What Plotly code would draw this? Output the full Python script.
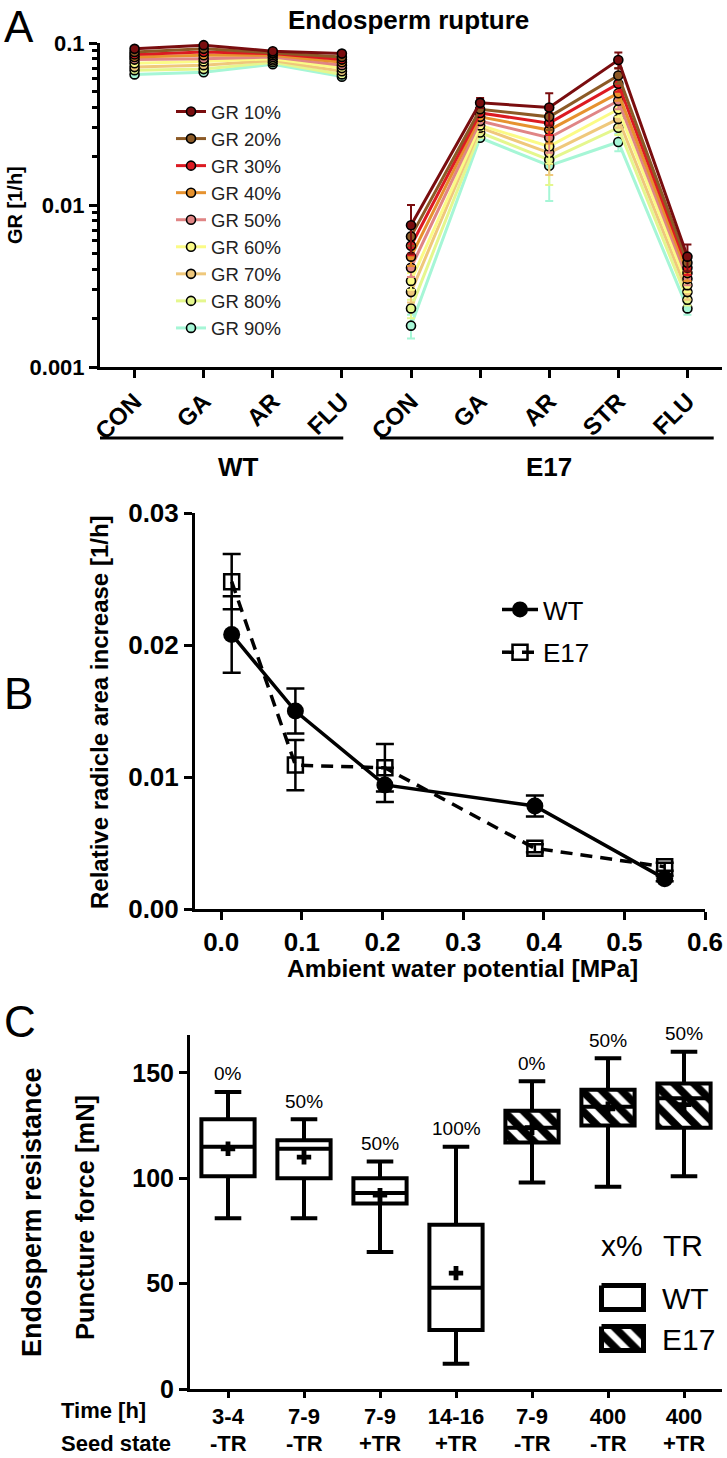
import plotly.graph_objects as go

W, H = 727, 1458
def px(x): return x / W
def py(y): return 1 - y / H

FONT = "Liberation Sans, Arial, Helvetica, sans-serif"

# ---------------- Panel A data ----------------
a_categories = ["CON", "GA", "AR", "FLU", "CON", "GA", "AR", "STR", "FLU"]
a_wt_idx = [0, 1, 2, 3]
a_e17_idx = [4, 5, 6, 7, 8]
a_series = ["GR 10%", "GR 20%", "GR 30%", "GR 40%", "GR 50%", "GR 60%", "GR 70%", "GR 80%", "GR 90%"]
a_colors = ["#7a0d0f", "#8c5a26", "#dc1a22", "#e6922f", "#e08585", "#fbfb86", "#efc87c", "#e5f78e", "#a6f6d6"]
gr10 = [0.092, 0.097, 0.089, 0.086, 0.0075, 0.0427, 0.040, 0.0785, 0.0048]
gr20 = [0.088, 0.092, 0.087, 0.082, 0.0064, 0.039, 0.035, 0.063, 0.0044]
gr30 = [0.085, 0.088, 0.086, 0.079, 0.0056, 0.037, 0.032, 0.056, 0.0041]
gr40 = [0.082, 0.084, 0.084, 0.076, 0.0048, 0.035, 0.029, 0.049, 0.0038]
gr50 = [0.079, 0.080, 0.082, 0.073, 0.0041, 0.033, 0.026, 0.044, 0.0035]
gr60 = [0.075, 0.077, 0.080, 0.070, 0.0034, 0.031, 0.023, 0.039, 0.0032]
gr70 = [0.071, 0.073, 0.078, 0.067, 0.0029, 0.030, 0.021, 0.034, 0.0029]
gr80 = [0.068, 0.069, 0.076, 0.064, 0.0023, 0.028, 0.019, 0.030, 0.0026]
gr90 = [0.064, 0.066, 0.074, 0.062, 0.0018, 0.026, 0.0175, 0.0245, 0.0023]
er10 = [0.001, 0.001, 0.001, 0.001, 0.0025, 0.003, 0.009, 0.009, 0.0009]
er20 = [0.001, 0.001, 0.001, 0.001, 0.0008, 0.002, 0.006, 0.007, 0.0005]
er30 = [0.001, 0.001, 0.001, 0.001, 0.0007, 0.002, 0.005, 0.006, 0.0004]
er40 = [0.001, 0.001, 0.001, 0.001, 0.0006, 0.002, 0.005, 0.005, 0.0004]
er50 = [0.001, 0.001, 0.001, 0.001, 0.0005, 0.002, 0.005, 0.005, 0.0003]
er60 = [0.001, 0.001, 0.001, 0.001, 0.0004, 0.002, 0.005, 0.004, 0.0003]
er70 = [0.001, 0.001, 0.001, 0.001, 0.0004, 0.002, 0.0057, 0.004, 0.0003]
er80 = [0.001, 0.001, 0.001, 0.001, 0.0003, 0.002, 0.0057, 0.003, 0.0002]
er90 = [0.001, 0.001, 0.001, 0.001, 0.0003, 0.001, 0.0069, 0.003, 0.0002]
a_values = [gr10, gr20, gr30, gr40, gr50, gr60, gr70, gr80, gr90]
a_errors = [er10, er20, er30, er40, er50, er60, er70, er80, er90]
a_yticks = [0.001, 0.01, 0.1]
a_ytext = ["0.001", "0.01", "0.1"]

# ---------------- Panel B data ----------------
b_x_wt = [0.013, 0.092, 0.203, 0.389, 0.550]
b_y_wt = [0.0208, 0.0150, 0.0094, 0.0078, 0.0023]
b_e_wt = [0.0029, 0.0017, 0.0013, 0.0008, 0.0002]
b_x_e17 = [0.013, 0.092, 0.203, 0.389, 0.550]
b_y_e17 = [0.0248, 0.0109, 0.0107, 0.0046, 0.0032]
b_e_e17 = [0.0021, 0.0019, 0.0018, 0.0003, 0.0003]
b_xticks = [0.0, 0.1, 0.2, 0.3, 0.4, 0.5, 0.6]
b_yticks = [0.0, 0.01, 0.02, 0.03]

# ---------------- Panel C data ----------------
c_time = ["3-4", "7-9", "7-9", "14-16", "7-9", "400", "400"]
c_state = ["-TR", "-TR", "+TR", "+TR", "-TR", "-TR", "+TR"]
c_genotype = ["WT", "WT", "WT", "WT", "E17", "E17", "E17"]
c_pct = ["0%", "50%", "50%", "100%", "0%", "50%", "50%"]
c_low = [81, 81, 65, 12, 98, 96, 101]
c_q1 = [101, 100, 88, 28, 117, 125, 124]
c_med = [115, 114, 93, 48, 124, 134, 138]
c_q3 = [128, 118, 100, 78, 132, 142, 145]
c_high = [141, 128, 108, 115, 146, 157, 160]
c_mean = [114, 110, 92, 55, 124, 133, 135]
c_yticks = [0, 50, 100, 150]

fig = go.Figure()

# ---- Panel A traces (added in reverse so GR 10% is drawn on top) ----
for k in reversed(range(len(a_series))):
    vals, errs, col, name = a_values[k], a_errors[k], a_colors[k], a_series[k]
    for grp, idx in (("WT", a_wt_idx), ("E17", a_e17_idx)):
        fig.add_trace(go.Scatter(
            x=idx, y=[vals[j] for j in idx],
            error_y=dict(type="data", array=[errs[j] for j in idx], color=col, thickness=2, width=4),
            mode="lines+markers", name=name, legendgroup=name, legendrank=k + 1,
            showlegend=(grp == "WT"),
            line=dict(color=col, width=3),
            marker=dict(color=col, size=9, line=dict(color="black", width=1.6)),
            cliponaxis=False, xaxis="x", yaxis="y", legend="legend"))

# ---- Panel B traces ----
fig.add_trace(go.Scatter(
    x=b_x_e17, y=b_y_e17, mode="lines+markers", name="E17", legendgroup="E17", legendrank=2,
    error_y=dict(type="data", array=b_e_e17, color="black", thickness=2.5, width=9),
    line=dict(color="black", width=3.5, dash="12px,8px"),
    marker=dict(symbol="square-open", size=15, color="black", line=dict(width=2.5)),
    cliponaxis=False, xaxis="x2", yaxis="y2", legend="legend2"))
fig.add_trace(go.Scatter(
    x=b_x_wt, y=b_y_wt, mode="lines+markers", name="WT", legendgroup="WT", legendrank=1,
    error_y=dict(type="data", array=b_e_wt, color="black", thickness=2.5, width=9),
    line=dict(color="black", width=3.5),
    marker=dict(symbol="circle", size=17, color="black"),
    cliponaxis=False, xaxis="x2", yaxis="y2", legend="legend2"))

# ---- Panel C traces ----
wt_i = [i for i, g in enumerate(c_genotype) if g == "WT"]
e_i = [i for i, g in enumerate(c_genotype) if g == "E17"]
hatch = dict(shape="\\", fgcolor="black", bgcolor="white", fgopacity=1, size=14, solidity=0.55)
fig.add_trace(go.Bar(
    x=e_i, base=[c_q1[i] for i in e_i], y=[c_q3[i] - c_q1[i] for i in e_i], width=0.7,
    marker=dict(color="white", opacity=1, line=dict(width=0), pattern=hatch),
    showlegend=False, xaxis="x3", yaxis="y3"))
for idxs, fill in ((wt_i, "white"), (e_i, "rgba(0,0,0,0)")):
    fig.add_trace(go.Box(
        x=idxs, q1=[c_q1[i] for i in idxs], median=[c_med[i] for i in idxs],
        q3=[c_q3[i] for i in idxs], lowerfence=[c_low[i] for i in idxs],
        upperfence=[c_high[i] for i in idxs], orientation="v",
        width=0.7, whiskerwidth=0.5, fillcolor=fill, boxpoints=False,
        line=dict(color="black", width=4), showlegend=False, xaxis="x3", yaxis="y3"))
fig.add_trace(go.Scatter(
    x=list(range(len(c_mean))), y=c_mean, mode="markers",
    marker=dict(symbol="cross", size=12, color="black", line=dict(width=0)),
    showlegend=False, xaxis="x3", yaxis="y3"))

# ---- Panel C legend swatches on a pixel-space overlay axis ----
fig.add_trace(go.Scatter(x=[601.5, 643.5, 643.5, 601.5, 601.5], y=[1285.5, 1285.5, 1309.5, 1309.5, 1285.5],
                         mode="lines", fill="toself", fillcolor="white",
                         line=dict(color="black", width=5), showlegend=False,
                         xaxis="x4", yaxis="y4", hoverinfo="skip"))
fig.add_trace(go.Scatter(x=[601.5, 643.5, 643.5, 601.5, 601.5], y=[1326.5, 1326.5, 1350.5, 1350.5, 1326.5],
                         mode="lines", fill="toself", fillcolor="white", fillpattern=hatch,
                         line=dict(color="black", width=5), showlegend=False,
                         xaxis="x4", yaxis="y4", hoverinfo="skip"))

axis_common = dict(showline=True, linecolor="black", linewidth=3, ticks="outside",
                   tickcolor="black", tickwidth=3, ticklen=8, showgrid=False, zeroline=False,
                   fixedrange=True, automargin=False)

annotations = []
def ann(text, x, y, size, bold=False, angle=0, xanchor="center", yanchor="middle",
        color="black", xref="paper", yref="paper", yshift=0):
    annotations.append(dict(text=text, x=x, y=y, xref=xref, yref=yref, showarrow=False,
                            textangle=angle, xanchor=xanchor, yanchor=yanchor, yshift=yshift,
                            font=dict(family=FONT, size=size, color=color,
                                      weight="bold" if bold else "normal")))

# panel letters
ann("A", px(2), py(0), 44, xanchor="left", yanchor="top")
ann("B", px(2), py(667), 44, xanchor="left", yanchor="top")
ann("C", px(2), py(995), 44, xanchor="left", yanchor="top")

# Panel A texts
ann("Endosperm rupture", px(408), py(20), 26, bold=True)
ann("GR [1/h]", px(15), py(205), 20, bold=True, angle=-90)
ann("WT", (a_wt_idx[0] + a_wt_idx[-1]) / 2, py(467), 26, bold=True, xref="x")
ann("E17", (a_e17_idx[0] + a_e17_idx[-1]) / 2, py(467), 26, bold=True, xref="x")

# Panel B texts
ann("Relative radicle area increase [1/h]", px(100), py(712), 24, bold=True, angle=-90)
ann("Ambient water potential [MPa]", px(462), py(968), 24.5, bold=True)

# Panel C texts
ann("Puncture force [mN]", px(85), py(1218), 25.5, bold=True, angle=-90)
ann("Endosperm resistance", px(32), py(1212), 27, bold=True, angle=-90)
for i, t in enumerate(c_pct):
    ann(t, i, c_high[i], 19, xref="x3", yref="y3", yshift=18)
for i, s in enumerate(c_state):
    ann(s, i, 0, 22, bold=True, xref="x3", yanchor="bottom")
ann("Time [h]", px(59), py(1410), 22, bold=True, xanchor="left")
ann("Seed state", px(59), 0, 22, bold=True, xanchor="left", yanchor="bottom")
ann("x%", px(622), py(1245), 30)
ann("TR", px(683), py(1245), 30)
ann("WT", px(660), py(1298), 30, xanchor="left")
ann("E17", px(660), py(1339), 30, xanchor="left")

group_shapes = [
    dict(type="line", xref="x", yref="paper", x0=-0.55, x1=3.02, y0=py(438), y1=py(438),
         line=dict(color="black", width=3)),
    dict(type="line", xref="x", yref="paper", x0=3.55, x1=8.38, y0=py(438), y1=py(438),
         line=dict(color="black", width=3)),
]

minor_vals = [m * 10 ** e for e in (-3, -2) for m in range(2, 10)]
axis_c = {**axis_common, "ticklen": 6}

fig.update_layout(
    width=W, height=H, margin=dict(l=0, r=0, t=0, b=0, pad=0, autoexpand=False),
    paper_bgcolor="white", plot_bgcolor="rgba(0,0,0,0)",
    font=dict(family=FONT, color="black"),
    boxmode="overlay", barmode="overlay",
    xaxis=dict(**axis_common, domain=[px(100), px(722)], range=[-0.5, 8.5], anchor="y",
               tickvals=list(range(len(a_categories))), ticktext=a_categories, tickangle=-45,
               tickfont=dict(size=24, weight="bold")),
    yaxis=dict(**axis_common, type="log", domain=[py(367), py(43)], range=[-3, -1], anchor="x",
               tickvals=a_yticks, ticktext=a_ytext, tickfont=dict(size=22, weight="bold"),
               minor=dict(ticks="outside", ticklen=5, tickwidth=2.5, tickcolor="black",
                          tickvals=minor_vals, showgrid=False)),
    xaxis2=dict(**axis_common, domain=[px(195), px(705)], range=[-0.0325, 0.6], anchor="y2",
                tickvals=b_xticks, ticktext=[f"{v:.1f}" for v in b_xticks],
                tickfont=dict(size=26, weight="bold")),
    yaxis2=dict(**axis_common, domain=[py(909), py(513)], range=[0, 0.03], anchor="x2",
                tickvals=b_yticks, ticktext=[f"{v:.2f}" for v in b_yticks],
                tickfont=dict(size=26, weight="bold")),
    xaxis3=dict(**axis_c, domain=[px(190), px(722)], range=[-0.5, 6.5], anchor="y3",
                tickvals=list(range(len(c_time))), ticktext=c_time,
                tickfont=dict(size=22, weight="bold")),
    yaxis3=dict(**axis_common, domain=[py(1389), py(1035)], range=[0, 168], anchor="x3",
                tickvals=c_yticks, tickfont=dict(size=25, weight="bold")),
    xaxis4=dict(domain=[0, 1], range=[0, W], visible=False, fixedrange=True, anchor="y4",
                automargin=False),
    yaxis4=dict(domain=[0, 1], range=[H, 0], visible=False, fixedrange=True, anchor="x4",
                automargin=False),
    legend=dict(x=px(171), y=py(93), xanchor="left", yanchor="top", bgcolor="rgba(0,0,0,0)",
                font=dict(size=18.5, color="#222222"), traceorder="grouped",
                tracegroupgap=0, itemwidth=30),
    legend2=dict(x=px(497), y=py(586), xanchor="left", yanchor="top", bgcolor="rgba(0,0,0,0)",
                 font=dict(size=26, color="black"), traceorder="grouped",
                 tracegroupgap=6, itemwidth=36),
    annotations=annotations, shapes=group_shapes,
)

fig.write_html("out.html", config={"displayModeBar": False},
               post_script="document.body.style.margin='0';document.body.style.overflow='hidden';")
